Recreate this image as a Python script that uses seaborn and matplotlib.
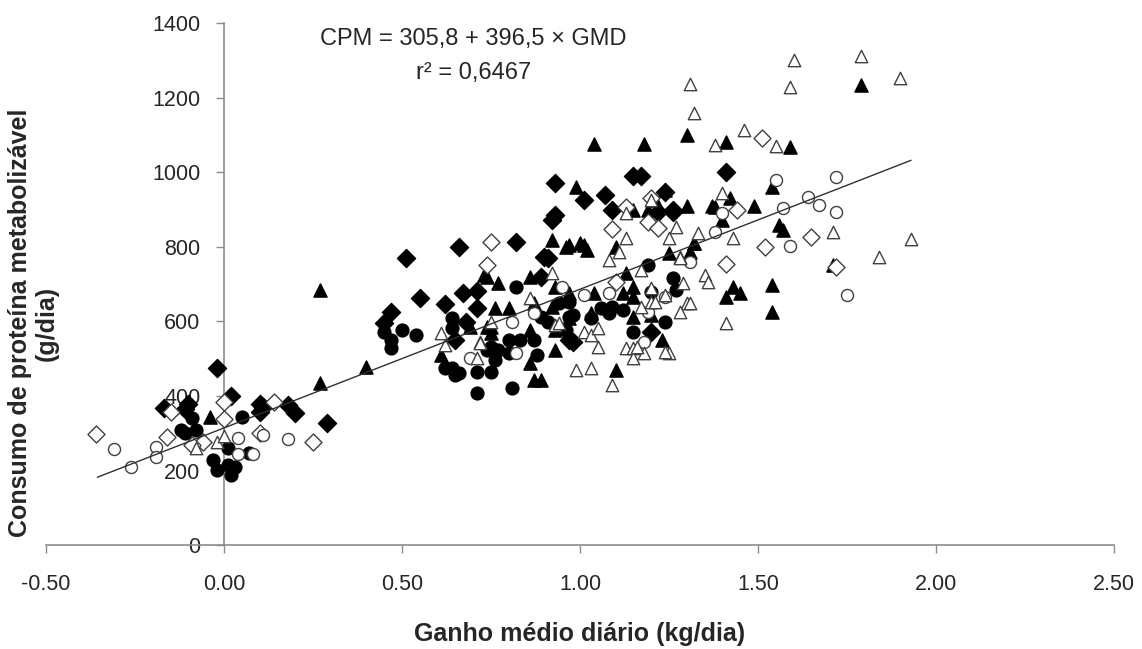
import numpy as np
import pandas as pd
import matplotlib
matplotlib.use("Agg")
import matplotlib.pyplot as plt
import seaborn as sns

sns.set_style("white")
plt.rcParams['font.family'] = ['Liberation Sans', 'DejaVu Sans']

# ganho medio diario (kg/dia) x consumo de PM (g/dia)
fd_x = [-0.02, 0.02, -0.17, -0.11, -0.10, 0.10, 0.10, 0.11, 0.18, 0.20, 0.29,
        0.45, 0.47, 0.51, 0.55, 0.62, 0.66, 0.67, 0.68, 0.71, 0.71, 0.65,
        0.82, 0.89, 0.90, 0.91, 0.92, 0.93, 0.93, 0.97, 0.98, 1.01, 1.07,
        1.09, 1.15, 1.17, 1.20, 1.22, 1.24, 1.26, 1.41, 1.26]
fd_y = [475, 400, 367, 364, 378, 378, 357, 370, 375, 354, 327,
        595, 624, 769, 662, 646, 799, 675, 598, 681, 635, 549,
        812, 718, 772, 769, 871, 970, 884, 549, 544, 925, 938,
        898, 989, 989, 571, 892, 946, 892, 1000, 898]

fc_x = [-0.09, -0.12, -0.11, -0.08, 0.05, 0.01, 0.07, -0.03, -0.02, 0.01, 0.03, 0.02,
        0.50, 0.45, 0.47, 0.47, 0.54, 0.64, 0.64, 0.66, 0.65, 0.71, 0.75, 0.71, 0.75,
        0.64, 0.82, 0.81, 0.62, 0.74, 0.77, 0.80, 0.83, 0.87, 0.88, 0.76,
        0.94, 0.97, 0.97, 0.96, 0.89, 0.91, 0.80,
        1.06, 1.09, 1.03, 1.08, 1.15, 1.20, 1.19, 1.26, 1.27, 1.24, 1.12, 0.98]
fc_y = [340, 308, 300, 308, 343, 260, 247, 228, 201, 214, 209, 188,
        576, 571, 549, 528, 563, 608, 474, 461, 456, 464, 464, 407, 531,
        582, 692, 421, 474, 523, 523, 549, 549, 549, 509, 496,
        649, 651, 611, 576, 611, 598, 515,
        635, 638, 608, 622, 571, 678, 750, 716, 683, 598, 630, 616]

ft_x = [-0.04, 0.27, 0.27, 0.40, 0.61, 0.74, 0.75,
        0.99, 1.15, 1.19, 1.21, 0.92, 0.97, 0.96, 1.00, 1.02, 1.10,
        0.73, 0.77, 0.86, 0.93, 1.13, 1.25, 0.76, 0.80, 0.87, 0.92, 0.97,
        1.04, 1.12, 1.15, 1.15, 0.74, 0.75, 0.86, 0.93, 0.93, 0.86, 0.87,
        0.89, 1.10, 1.23, 1.03, 0.97, 1.15, 1.20, 0.69,
        1.30, 1.41, 1.59, 1.54, 1.30, 1.38, 1.42, 1.49, 1.40, 1.56, 1.57,
        1.32, 1.31, 1.43, 1.41, 1.45, 1.54, 1.54, 1.71, 1.79,
        1.04, 1.18, 1.37, 1.24, 1.01, 1.32]
ft_y = [343, 683, 434, 477, 509, 718, 584,
        960, 898, 898, 925, 817, 804, 799, 809, 791, 799,
        724, 702, 718, 692, 729, 783, 635, 635, 649, 638, 675,
        675, 675, 692, 665, 584, 568, 576, 576, 523, 488, 442,
        442, 469, 549, 622, 608, 611, 616, 584,
        1099, 1080, 1067, 960, 909, 906, 930, 909, 871, 858, 844,
        809, 785, 692, 665, 675, 697, 624, 750, 1233,
        1077, 1077, 909, 951, 804, 809]

od_x = [-0.36, -0.15, -0.16, -0.06, -0.09, 0.00, 0.00, 0.10, 0.14, 0.25,
        0.75, 0.74, 1.09, 1.19, 1.22, 1.10, 1.13, 1.20,
        1.51, 1.44, 1.65, 1.52, 1.41, 1.72]
od_y = [298, 357, 290, 276, 268, 383, 338, 300, 383, 276,
        812, 750, 847, 866, 850, 705, 906, 930,
        1093, 898, 826, 799, 753, 745]

oc_x = [-0.31, -0.26, -0.19, -0.19, 0.04, 0.04, 0.11, 0.08, 0.18,
        0.69, 0.95, 1.01, 0.81, 0.87, 1.19, 1.18, 1.24, 0.82,
        1.08, 1.31, 1.55, 1.72, 1.57, 1.64, 1.67, 1.72, 1.38, 1.59, 1.75, 1.40]
oc_y = [257, 209, 263, 236, 287, 244, 295, 244, 284,
        501, 692, 670, 598, 622, 624, 544, 665, 515,
        675, 759, 978, 987, 903, 933, 911, 892, 841, 802, 670, 890]

ot_x = [-0.08, -0.02, 0.00,
        0.61, 0.62, 0.72, 0.71, 0.72,
        1.79, 1.90, 1.93, 1.84, 1.60, 1.59, 1.31, 1.32,
        1.46, 1.38, 1.55, 1.40, 1.71, 1.43, 1.27, 1.33, 1.28, 1.35, 1.36,
        1.29, 1.30, 1.28, 1.41, 1.25,
        1.13, 1.13, 1.20, 1.25, 1.11, 1.08, 0.92, 1.20, 1.24, 1.17, 1.20,
        0.86, 0.75, 0.93, 0.94, 1.01, 1.03, 1.05, 1.05, 1.13, 1.15, 1.15,
        1.18, 1.24, 0.99, 1.03, 1.09, 1.16, 1.21, 1.31, 1.17, 1.28]
ot_y = [260, 276, 292,
        568, 536, 544, 501, 541,
        1311, 1252, 820, 772, 1300, 1228, 1236, 1160,
        1112, 1072, 1069, 944, 839, 823, 852, 836, 772, 724, 705,
        702, 649, 624, 595, 515,
        823, 890, 925, 823, 785, 764, 729, 689, 670, 638, 651,
        662, 598, 590, 595, 571, 563, 582, 531, 528, 528, 501,
        515, 517, 469, 474, 429, 531, 651, 649, 737, 769]

# drawn regression line end points
line_x = [-0.356, 1.93]
line_y = [182, 1032]

fig, ax = plt.subplots(figsize=(11.42, 6.49), dpi=100)
fig.subplots_adjust(left=0.0403, right=0.9755, bottom=0.160, top=0.9645)

edge = "#404040"
groups = [
    (fd_x, fd_y, "D", "black", "black", 85),
    (fc_x, fc_y, "o", "black", "black", 85),
    (ft_x, ft_y, "^", "black", "black", 90),
    (od_x, od_y, "D", "white", edge, 75),
    (oc_x, oc_y, "o", "white", edge, 75),
    (ot_x, ot_y, "^", "white", edge, 80),
]
for gx, gy, mk, fc, ec, sz in groups:
    sns.scatterplot(x=gx, y=gy, marker=mk, color=fc, edgecolor=ec,
                    linewidth=1.0, s=sz, ax=ax, zorder=3)

sns.lineplot(x=line_x, y=line_y, color="#303030", linewidth=1.0, ax=ax, zorder=4)

ax.set_xlim(-0.5, 2.5)
ax.set_ylim(0, 1400)
ax.set_xticks(np.arange(-0.5, 2.51, 0.5))
ax.set_xticklabels([f"{v:.2f}" for v in np.arange(-0.5, 2.51, 0.5)])
ax.set_yticks(range(0, 1401, 200))

for s in ["top", "right"]:
    ax.spines[s].set_visible(False)
ax.spines["left"].set_position(("data", 0))
for s in ["left", "bottom"]:
    ax.spines[s].set_color("#8c8c8c")
    ax.spines[s].set_linewidth(1.2)

ax.tick_params(axis="x", direction="out", length=6, width=1, color="#8c8c8c",
               pad=15, labelsize=15.5)
ax.tick_params(axis="y", direction="out", length=6, width=1, color="#8c8c8c",
               pad=11, labelsize=15.5)
ax.tick_params(left=True, bottom=True)

ax.set_xlabel("Ganho médio diário (kg/dia)", fontsize=18, fontweight="bold", labelpad=19)
ax.set_ylabel("")
fig.text(0.029, 0.502, "Consumo de proteína metabolizável\n(g/dia)", rotation=90,
         ha="center", va="center", fontsize=18, fontweight="bold", linespacing=1.15)

ax.text(0.70, 1358, "CPM = 305,8 + 396,5 × GMD", ha="center", va="center", fontsize=17)
ax.text(0.70, 1266, "r² = 0,6467", ha="center", va="center", fontsize=17)

plt.savefig("out.png", dpi=100)
